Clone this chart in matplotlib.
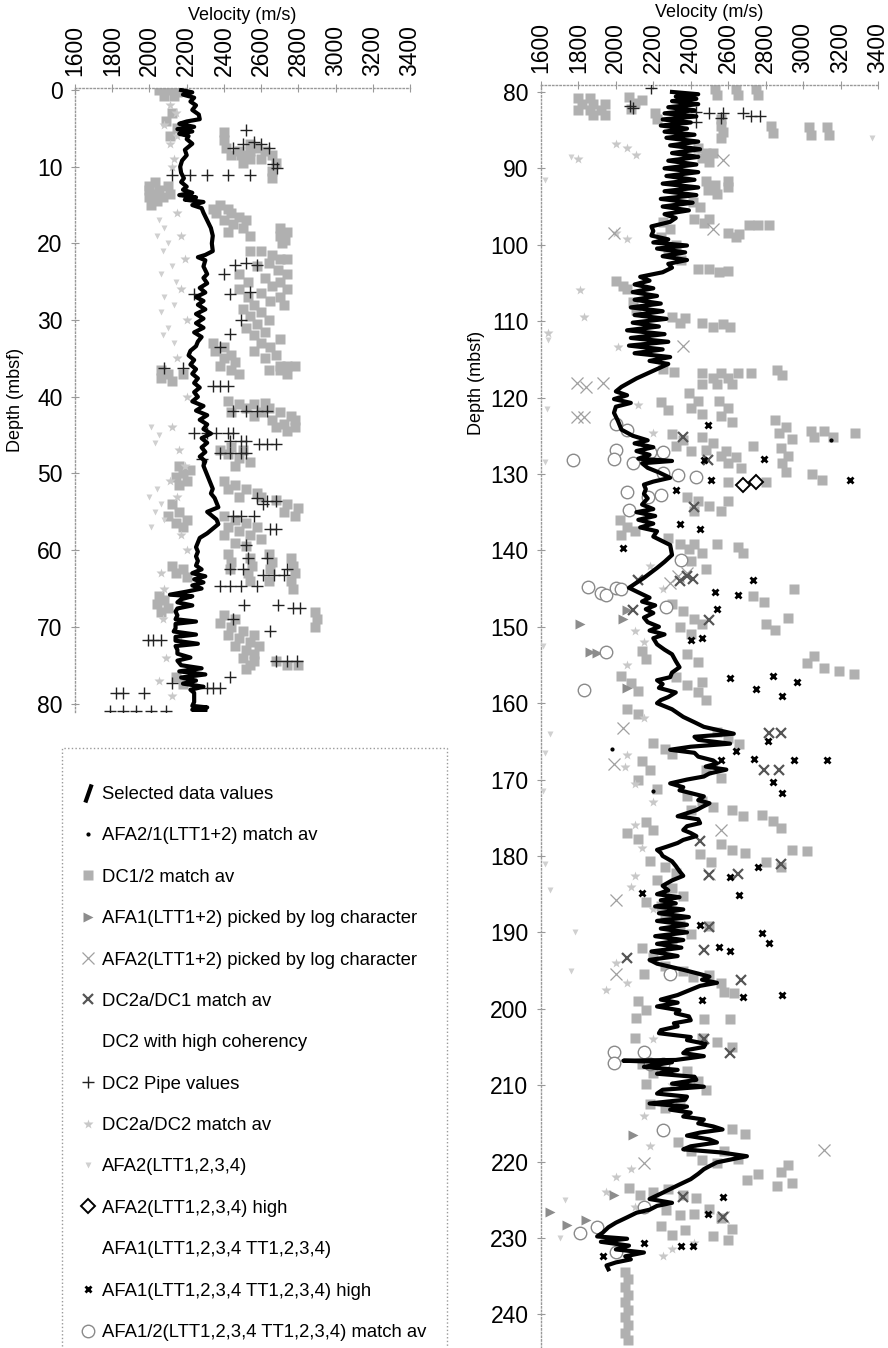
import matplotlib
matplotlib.use("Agg")
import matplotlib.pyplot as plt
from matplotlib.lines import Line2D
from matplotlib.patches import Rectangle

plt.rcParams['font.family'] = ['Liberation Sans', 'DejaVu Sans']

# ---- selected velocity profile (depth m, velocity m/s) ----
selected_upper = [
    (0.0, 2170), (0.3, 2230), (0.6, 2180), (1.0, 2240), (1.5, 2220), (2.0, 2250), (2.6, 2230),
    (3.2, 2265), (3.8, 2270), (4.1, 2200), (4.4, 2160), (4.8, 2240), (5.1, 2150), (5.4, 2230),
    (5.7, 2160), (6.0, 2210), (6.4, 2200), (7.0, 2230), (7.8, 2190), (8.5, 2200), (9.2, 2175),
    (10.0, 2165), (10.8, 2170), (11.5, 2185), (12.0, 2170), (12.6, 2200), (13.0, 2180), (13.4, 2230),
    (13.7, 2160), (14.0, 2250), (14.3, 2190), (14.6, 2290), (15.0, 2230), (15.4, 2280), (16.0, 2290),
    (17.0, 2310), (18.0, 2330), (19.0, 2340), (20.0, 2335), (21.0, 2340), (21.5, 2300), (21.8, 2260),
    (22.2, 2300), (23.0, 2290), (24.0, 2310), (24.5, 2290), (25.2, 2310), (25.8, 2270), (26.4, 2300),
    (27.0, 2250), (27.5, 2290), (28.0, 2260), (28.6, 2300), (29.2, 2250), (29.8, 2290), (30.4, 2250),
    (31.0, 2290), (31.6, 2240), (32.2, 2280), (32.8, 2260), (33.4, 2250), (34.0, 2220), (34.6, 2210),
    (35.2, 2240), (35.8, 2220), (36.4, 2250), (37.0, 2230), (37.6, 2260), (38.2, 2240), (38.8, 2270),
    (39.4, 2240), (40.0, 2260), (40.6, 2230), (41.2, 2290), (41.8, 2250), (42.4, 2310), (43.0, 2270),
    (43.6, 2310), (44.2, 2290), (44.8, 2330), (45.4, 2280), (46.0, 2310), (46.6, 2280), (47.2, 2300),
    (47.8, 2270), (48.4, 2300), (49.0, 2290), (49.6, 2300), (50.2, 2310), (50.8, 2320), (51.4, 2330),
    (52.0, 2340), (52.6, 2330), (53.2, 2350), (53.8, 2360), (54.4, 2370), (55.0, 2310), (55.4, 2330),
    (56.0, 2360), (56.6, 2370), (57.2, 2340), (57.8, 2310), (58.4, 2270), (59.0, 2260), (59.6, 2250),
    (60.2, 2260), (60.8, 2250), (61.4, 2260), (62.0, 2250), (62.5, 2280), (63.0, 2230), (63.4, 2300),
    (63.8, 2240), (64.2, 2290), (64.6, 2230), (65.0, 2280), (65.4, 2200), (65.8, 2110), (66.0, 2230),
    (66.4, 2170), (66.8, 2150), (67.2, 2230), (67.6, 2150), (68.0, 2140), (68.5, 2150), (69.0, 2140),
    (69.3, 2250), (69.6, 2140), (70.2, 2140), (70.6, 2130), (71.0, 2250), (71.3, 2140), (71.8, 2140),
    (72.2, 2260), (72.5, 2140), (73.0, 2150), (73.5, 2150), (74.0, 2220), (74.4, 2150), (75.0, 2170),
    (75.4, 2280), (75.8, 2160), (76.2, 2300), (76.6, 2170), (77.0, 2250), (77.4, 2180), (77.8, 2290),
    (78.2, 2220), (78.6, 2240), (79.2, 2240), (79.8, 2240), (80.3, 2230), (80.5, 2310), (80.8, 2230),
    (81.0, 2300),
]

selected_lower = [
    (80.0, 2300), (80.3, 2440), (80.6, 2320), (80.9, 2430), (81.2, 2300), (81.6, 2440), (82.0, 2280),
    (82.4, 2420), (82.8, 2260), (83.2, 2430), (83.6, 2250), (84.0, 2400), (84.4, 2240), (84.8, 2380),
    (85.2, 2260), (85.6, 2420), (86.0, 2270), (86.5, 2440), (87.0, 2290), (87.5, 2450), (88.0, 2300),
    (88.5, 2440), (89.0, 2280), (89.5, 2430), (90.0, 2260), (90.5, 2440), (91.0, 2270), (91.5, 2420),
    (92.0, 2250), (92.5, 2440), (93.0, 2260), (93.5, 2430), (94.0, 2240), (94.5, 2410), (95.0, 2250),
    (95.5, 2390), (96.0, 2260), (96.5, 2320), (97.0, 2290), (97.6, 2190), (98.2, 2200), (98.8, 2190),
    (99.3, 2280), (99.7, 2200), (100.1, 2380), (100.5, 2220), (101.0, 2370), (101.5, 2250), (102.0, 2380),
    (102.5, 2280), (103.0, 2300), (103.6, 2250), (104.2, 2130), (104.7, 2180), (105.2, 2100), (105.7, 2200),
    (106.2, 2090), (106.7, 2220), (107.2, 2100), (107.7, 2240), (108.2, 2080), (108.7, 2250), (109.2, 2100),
    (109.7, 2270), (110.2, 2090), (110.7, 2230), (111.2, 2060), (111.7, 2260), (112.2, 2080), (112.7, 2280),
    (113.2, 2070), (113.7, 2250), (114.2, 2100), (114.7, 2290), (115.2, 2180), (115.6, 2280), (116.5, 2200),
    (117.5, 2110), (118.6, 2030), (119.2, 2000), (119.7, 2060), (120.2, 1990), (120.7, 2080), (121.2, 2000),
    (122.0, 1990), (123.0, 2010), (124.2, 2030), (125.0, 2090), (125.6, 2170), (126.0, 2100), (126.5, 2200),
    (127.0, 2110), (127.5, 2180), (128.0, 2120), (128.3, 2300), (128.6, 2140), (129.2, 2170), (129.8, 2230),
    (130.5, 2290), (131.0, 2200), (131.4, 2150), (132.0, 2160), (132.6, 2150), (133.2, 2170), (134.0, 2140),
    (134.6, 2200), (135.0, 2110), (135.5, 2210), (136.0, 2120), (136.5, 2200), (137.0, 2130), (137.5, 2220),
    (138.2, 2200), (139.3, 2290), (140.6, 2300), (141.5, 2260), (142.3, 2220), (143.6, 2150), (144.9, 2070),
    (145.5, 2120), (146.2, 2180), (146.7, 2140), (147.2, 2210), (147.7, 2160), (148.2, 2200), (148.8, 2150),
    (149.4, 2170), (150.0, 2230), (150.5, 2180), (151.0, 2260), (151.5, 2200), (152.3, 2220), (153.0, 2260),
    (153.6, 2300), (154.5, 2320), (155.3, 2340), (156.0, 2300), (156.6, 2290), (157.0, 2220), (157.5, 2250),
    (158.0, 2230), (158.6, 2320), (159.2, 2280), (159.6, 2240), (160.0, 2220), (160.8, 2300), (161.8, 2360),
    (162.5, 2420), (163.1, 2470), (163.6, 2560), (164.0, 2630), (164.4, 2420), (164.8, 2440), (165.3, 2610),
    (165.7, 2400), (166.1, 2290), (166.5, 2420), (167.0, 2440), (167.5, 2520), (167.9, 2540), (168.3, 2480),
    (168.7, 2590), (169.2, 2500), (169.6, 2470), (170.0, 2380), (170.5, 2290), (171.0, 2360), (171.4, 2340),
    (172.2, 2470), (172.7, 2440), (173.1, 2500), (173.6, 2460), (174.0, 2430), (174.4, 2380), (174.8, 2330),
    (175.2, 2440), (175.7, 2450), (176.1, 2380), (176.6, 2360), (177.0, 2400), (177.4, 2430), (177.9, 2360),
    (178.3, 2330), (178.8, 2270), (179.2, 2220), (179.6, 2240), (180.0, 2250), (180.7, 2300), (181.3, 2320),
    (182.0, 2340), (182.6, 2360), (183.2, 2300), (183.9, 2250), (184.5, 2280), (185.0, 2220), (185.4, 2340),
    (185.8, 2240), (186.2, 2320), (186.6, 2210), (187.0, 2360), (187.5, 2230), (188.0, 2390), (188.5, 2220),
    (189.0, 2380), (189.5, 2240), (190.0, 2380), (190.5, 2210), (191.0, 2360), (191.5, 2220), (192.0, 2350),
    (192.5, 2190), (193.1, 2330), (193.6, 2180), (194.1, 2220), (194.9, 2360), (195.4, 2440), (195.8, 2500),
    (196.2, 2460), (196.6, 2540), (197.0, 2450), (197.5, 2400), (198.2, 2330), (198.8, 2240), (199.2, 2330),
    (199.7, 2220), (200.2, 2340), (200.6, 2320), (201.0, 2390), (201.5, 2400), (201.9, 2310), (202.3, 2330),
    (202.8, 2240), (203.2, 2230), (203.7, 2400), (204.1, 2380), (204.6, 2480), (205.0, 2470), (205.4, 2380),
    (205.8, 2360), (206.2, 2470), (206.7, 2320), (206.8, 2040), (207.0, 2300), (207.6, 2150), (208.0, 2330),
    (208.5, 2220), (208.9, 2420), (209.3, 2430), (209.8, 2300), (210.2, 2470), (210.6, 2250), (211.1, 2220),
    (211.5, 2380), (211.9, 2370), (212.4, 2180), (212.8, 2380), (213.2, 2290), (213.6, 2400), (214.1, 2360),
    (214.5, 2470), (215.0, 2440), (215.4, 2520), (215.8, 2570), (216.2, 2450), (216.6, 2380), (217.1, 2500),
    (217.5, 2540), (218.0, 2400), (218.4, 2360), (218.8, 2560), (219.3, 2700), (219.7, 2620), (220.1, 2540),
    (220.6, 2500), (221.0, 2470), (221.6, 2440), (222.3, 2400), (223.0, 2340), (223.6, 2290), (224.2, 2240),
    (224.9, 2180), (225.4, 2300), (225.8, 2220), (226.3, 2180), (226.7, 2110), (227.3, 2060), (228.0, 2000),
    (228.6, 1960), (229.3, 1930), (229.8, 1900), (230.1, 2060), (230.5, 1920), (231.0, 2070), (231.5, 2000),
    (231.9, 2150), (232.4, 2050), (232.8, 2080), (233.2, 2000), (233.6, 1950), (234.1, 1960),
]

# ---- DC1/2 match av ----
dc12_upper = [
    (0.0, 2050), (0.0, 2100), (0.8, 2080), (0.8, 2130), (0.2, 2150),
    (3.0, 2120), (4.0, 2090), (5.0, 2150), (6.0, 2110),
    (5.5, 2400), (6.5, 2400), (7.5, 2410), (8.5, 2440), (8.5, 2490), (8.0, 2540), (7.5, 2580), (8.0, 2620),
    (8.5, 2660), (9.5, 2680), (10.5, 2660), (11.5, 2660), (9.0, 2540), (9.5, 2500), (9.0, 2600), (7.0, 2540),
    (8.0, 2480),
    (12.0, 2030), (12.5, 2000), (13.0, 2000), (13.0, 2050), (13.5, 2030), (14.0, 2000), (14.0, 2070),
    (14.5, 2040), (15.0, 2010), (12.5, 2100), (13.5, 2110),
    (15.0, 2380), (15.5, 2420), (16.0, 2360), (16.0, 2440), (16.5, 2480), (17.0, 2400), (17.0, 2520),
    (17.5, 2450), (18.0, 2500), (18.5, 2420), (19.0, 2540), (15.5, 2340),
    (18.0, 2700), (18.5, 2740), (19.0, 2700), (19.5, 2730), (20.0, 2710),
    (21.0, 2540), (21.0, 2600), (21.5, 2660), (22.0, 2700), (22.5, 2640), (22.0, 2740), (23.0, 2580),
    (23.5, 2690), (24.0, 2740), (24.5, 2620), (25.0, 2700), (25.5, 2660), (26.0, 2740), (26.5, 2600),
    (27.0, 2700), (27.5, 2650), (28.0, 2720),
    (24.0, 2480), (25.0, 2530), (26.0, 2480), (27.0, 2530), (28.0, 2560), (28.5, 2500), (29.0, 2600),
    (29.5, 2540), (30.0, 2640), (30.5, 2580), (31.0, 2520), (31.5, 2620), (32.0, 2560), (32.5, 2700),
    (33.0, 2600), (33.5, 2650), (34.0, 2560), (34.5, 2680), (35.0, 2620), (36.0, 2700), (36.0, 2740),
    (33.0, 2340), (33.5, 2400), (34.0, 2350), (34.5, 2440), (35.0, 2400), (35.5, 2460), (36.0, 2380),
    (36.5, 2440), (37.0, 2480),
    (36.5, 2060), (37.0, 2100), (37.5, 2060), (38.0, 2120), (37.0, 2180),
    (36.5, 2640), (36.5, 2700), (37.0, 2740), (36.0, 2780),
    (40.5, 2420), (41.0, 2480), (41.0, 2560), (41.5, 2520), (41.5, 2640), (42.0, 2600), (42.0, 2700),
    (42.5, 2560), (42.5, 2760), (43.0, 2660), (43.0, 2780), (43.5, 2720), (44.0, 2680), (44.0, 2780),
    (44.5, 2740), (40.8, 2620), (42.0, 2440),
    (46.5, 2440), (47.0, 2500), (47.5, 2420), (48.0, 2480), (48.5, 2540), (47.0, 2380), (49.0, 2460),
    (49.0, 2160), (49.5, 2220), (50.0, 2180), (50.5, 2140), (51.0, 2200), (51.5, 2160),
    (51.0, 2400), (51.5, 2460), (52.0, 2520), (52.5, 2580), (53.0, 2600), (52.0, 2420), (53.0, 2480),
    (53.5, 2680), (54.0, 2740), (54.5, 2800), (55.0, 2720), (55.5, 2780),
    (54.0, 2120), (55.0, 2160), (55.5, 2100), (56.0, 2200), (56.5, 2140), (57.0, 2180),
    (55.5, 2400), (56.0, 2460), (56.5, 2520), (57.0, 2420), (57.0, 2580), (57.5, 2480), (58.0, 2540),
    (58.0, 2400), (58.5, 2600), (59.0, 2460), (59.5, 2520),
    (62.0, 2120), (62.5, 2180), (63.0, 2140), (63.5, 2200),
    (60.5, 2420), (61.5, 2440), (62.5, 2430), (61.0, 2540), (62.0, 2550), (63.0, 2530), (64.0, 2540),
    (60.5, 2640), (61.5, 2660), (62.5, 2650), (64.0, 2640), (61.0, 2760), (62.0, 2770), (63.0, 2780),
    (64.0, 2760), (65.0, 2770),
    (66.0, 2050), (66.5, 2080), (67.0, 2040), (67.5, 2100), (68.0, 2060),
    (68.5, 2400), (69.0, 2460), (69.5, 2380), (70.0, 2440), (70.5, 2500), (71.0, 2420), (71.0, 2560),
    (71.5, 2480), (72.0, 2540), (72.5, 2460), (72.5, 2590), (73.0, 2520), (73.5, 2560), (74.0, 2500),
    (74.5, 2560), (75.0, 2540), (75.5, 2520),
    (68.0, 2890), (69.0, 2900), (70.0, 2890),
    (74.5, 2680), (75.0, 2740), (75.0, 2800),
    (76.5, 2140), (77.5, 2180),
]

dc12_lower = [
    (80.8, 1800), (80.8, 1860), (81.6, 1820), (81.6, 1880), (81.6, 1940), (82.4, 1800), (82.4, 1860),
    (82.4, 1920), (83.0, 1880), (83.0, 1940),
    (80.6, 2070), (81.4, 2100), (82.2, 2080), (81.0, 2140), (82.8, 2210), (83.5, 2220),
    (79.6, 2530), (80.4, 2540), (79.6, 2640), (80.4, 2650), (79.6, 2750), (80.4, 2760),
    (83.6, 2560), (84.4, 2560), (85.2, 2570), (86.0, 2560), (84.4, 2830), (85.4, 2840),
    (84.6, 3030), (85.6, 3040), (84.6, 3130), (85.6, 3140),
    (87.4, 2440), (88.0, 2480), (88.6, 2460), (89.2, 2500), (88.0, 2520),
    (91.6, 2480), (92.2, 2530), (92.8, 2490), (93.4, 2540), (91.6, 2600), (92.4, 2600),
    (94.4, 2410), (95.0, 2450), (96.6, 2420), (97.2, 2470), (96.6, 2500),
    (98.4, 2600), (99.0, 2640), (98.6, 2660), (97.4, 2710), (97.4, 2760), (97.4, 2820),
    (97.0, 2250), (98.0, 2290), (99.0, 2240), (100.0, 2320), (101.0, 2280), (102.0, 2350),
    (103.2, 2440), (103.2, 2500), (103.6, 2550), (103.4, 2600),
    (104.8, 2000), (105.4, 2040), (105.8, 2060), (107.5, 2090), (108.5, 2110),
    (109.4, 2300), (110.2, 2340), (109.6, 2370),
    (110.2, 2460), (110.8, 2520), (110.4, 2570), (110.8, 2610),
    (116.2, 2250), (116.6, 2310), (116.8, 2460), (117.4, 2520), (116.8, 2560), (117.4, 2600),
    (116.8, 2650), (116.8, 2720), (116.4, 2860), (117.0, 2890),
    (118.2, 2460), (118.2, 2540), (118.2, 2620), (120.6, 2240), (121.6, 2280),
    (119.4, 2390), (120.4, 2440), (121.4, 2400), (122.2, 2460),
    (120.4, 2550), (121.4, 2600), (122.4, 2560), (123.2, 2620),
    (123.0, 2850), (123.8, 2910), (124.6, 2870), (125.4, 2940),
    (126.6, 2880), (127.6, 2920), (128.6, 2890), (129.8, 2910),
    (124.4, 3040), (125.2, 3060), (124.4, 3110), (125.2, 3160), (124.6, 3280),
    (124.8, 2300), (125.6, 2360), (126.4, 2320), (127.0, 2400),
    (125.2, 2460), (126.0, 2520), (126.8, 2480), (127.6, 2560),
    (127.0, 2590), (127.8, 2640), (128.6, 2600), (129.2, 2670), (126.4, 2730),
    (131.0, 2600), (131.0, 2800), (130.0, 3050), (130.8, 3100),
    (133.0, 2380), (133.6, 2440), (134.2, 2500), (134.8, 2560), (133.6, 2600), (134.8, 2420),
    (136.0, 2020), (137.0, 2060), (138.0, 2030), (137.5, 2100),
    (138.4, 2280), (139.2, 2340), (139.8, 2390),
    (139.2, 2420), (140.4, 2460), (141.4, 2400), (142.4, 2480), (139.2, 2540),
    (139.6, 2650), (140.4, 2680), (145.0, 2950), (146.0, 2730), (146.8, 2790),
    (147.0, 2300), (148.0, 2360), (149.0, 2420), (150.0, 2340), (151.0, 2400), (149.6, 2460),
    (149.6, 2800), (150.4, 2850), (148.8, 2920),
    (153.2, 2140), (154.2, 2160), (153.6, 2380), (154.6, 2440),
    (153.8, 3060), (154.8, 3020), (155.4, 3110), (155.8, 3190), (156.2, 3270),
    (156.4, 2030), (157.4, 2080), (158.4, 2120),
    (156.6, 2320), (157.6, 2380), (158.6, 2440), (159.6, 2480), (157.2, 2460),
    (160.8, 2060), (161.4, 2120),
    (163.8, 2540), (164.6, 2600), (165.4, 2660),
    (165.2, 2200), (166.0, 2260), (166.6, 2300),
    (167.6, 2140), (168.8, 2180), (170.0, 2120), (171.2, 2220),
    (168.8, 2480), (169.8, 2560),
    (172.2, 2380), (172.8, 2460), (173.6, 2520), (174.0, 2400),
    (174.0, 2620), (174.8, 2680), (174.6, 2780), (175.4, 2840), (176.4, 2880),
    (177.0, 2060), (177.8, 2120), (175.6, 2160), (176.6, 2200),
    (178.4, 2560), (179.2, 2620), (179.6, 2690), (179.2, 2940), (179.4, 3020),
    (179.8, 2450), (180.8, 2510), (180.8, 2800), (181.4, 2880),
    (180.6, 2180), (181.4, 2260), (182.2, 2320),
    (183.2, 2220), (184.2, 2300), (185.2, 2360),
    (186.0, 2160), (186.6, 2240),
    (187.8, 2260), (189.0, 2340), (190.2, 2400), (191.4, 2300), (189.2, 2500),
    (192.0, 2140), (193.2, 2200), (194.4, 2260), (195.4, 2150),
    (195.0, 2360), (195.8, 2410), (195.6, 2500), (196.6, 2560), (197.8, 2580), (198.0, 2630),
    (199.0, 2120), (200.2, 2160), (201.2, 2110), (201.4, 2470), (201.4, 2610), (203.8, 2100),
    (203.8, 2460), (204.4, 2540), (205.0, 2620),
    (207.2, 2140), (208.4, 2200), (209.8, 2160),
    (208.2, 2380), (209.4, 2440), (210.6, 2480),
    (212.4, 2180), (213.0, 2260), (212.6, 2340),
    (215.8, 2620), (216.4, 2690),
    (217.4, 2330), (218.6, 2400), (219.8, 2460), (220.2, 2540),
    (218.6, 2580), (219.6, 2650),
    (220.4, 2920), (221.4, 2880), (221.6, 2760), (222.4, 2700), (222.8, 2940), (223.2, 2860),
    (223.4, 2070), (224.4, 2130), (224.0, 2200),
    (223.6, 2280), (224.4, 2360), (224.8, 2430),
    (226.4, 2270), (227.0, 2340), (226.8, 2420),
    (228.4, 2240), (229.6, 2300), (229.0, 2370),
    (226.2, 2500), (227.4, 2560), (228.8, 2620), (230.2, 2600), (229.8, 2520),
    (234.4, 2050), (235.4, 2065), (236.4, 2050), (237.4, 2065), (238.4, 2050), (239.4, 2065),
    (240.4, 2050), (241.4, 2065), (242.4, 2050), (243.4, 2065),
]

# ---- DC2 Pipe values ----
pipe_upper = [
    (5.2, 2520), (7.5, 2450), (7.0, 2500), (6.8, 2560), (7.0, 2600), (7.6, 2640), (9.6, 2665), (10.2, 2685),
    (11.1, 2120), (11.1, 2220), (11.1, 2310), (11.1, 2420), (11.1, 2540),
    (22.8, 2460), (22.6, 2520), (22.8, 2580), (24.0, 2400),
    (26.6, 2240), (26.6, 2430), (26.4, 2540), (30.0, 2490), (31.8, 2430), (33.5, 2380),
    (36.2, 2080), (36.2, 2180), (38.6, 2340), (38.6, 2380), (38.6, 2420),
    (41.8, 2450), (41.8, 2520), (41.8, 2580), (41.8, 2630),
    (44.7, 2240), (44.7, 2310), (44.7, 2360), (44.7, 2420), (44.7, 2450),
    (45.7, 2430), (45.7, 2490), (45.7, 2520), (46.2, 2590), (46.2, 2630), (46.2, 2680),
    (47.3, 2380), (47.3, 2430), (47.3, 2490), (47.3, 2520), (48.1, 2280),
    (53.2, 2580), (53.6, 2630), (53.6, 2680), (54.0, 2610),
    (55.5, 2450), (55.5, 2490), (55.5, 2560), (57.3, 2650), (57.3, 2680),
    (59.3, 2520), (61.0, 2530), (61.0, 2630),
    (62.5, 2430), (62.5, 2500), (62.5, 2740), (63.2, 2610), (63.2, 2670), (63.2, 2720),
    (64.7, 2380), (64.7, 2430), (64.7, 2490), (64.7, 2580),
    (67.1, 2510), (67.1, 2690), (67.6, 2770), (67.6, 2810), (69.0, 2450), (70.6, 2650),
    (71.7, 1990), (71.7, 2020), (71.7, 2060),
    (74.5, 2680), (74.5, 2740), (74.5, 2790), (76.5, 2430), (77.3, 2120),
    (78.0, 2310), (78.0, 2340), (78.0, 2380),
    (78.6, 1820), (78.6, 1860), (78.6, 1970),
    (81.0, 1790), (81.0, 1860), (81.0, 1930), (81.0, 2010), (81.0, 2090),
]

pipe_lower = [
    (79.5, 2190), (82.1, 2090), (81.9, 2075), (82.6, 2430), (82.8, 2500), (82.8, 2570), (82.8, 2680),
    (83.2, 2720), (83.2, 2770), (83.4, 2560), (83.9, 2430),
]

# ---- DC2a/DC1 match av ----
dc2a_dc1 = [
    (125.1, 2360), (128.2, 2490), (134.3, 2420), (143.4, 2380), (144.0, 2340), (143.8, 2410),
    (143.9, 2120), (147.8, 2090), (149.1, 2500), (163.9, 2820), (163.9, 2880), (168.7, 2790),
    (168.7, 2870), (178.1, 2450), (182.5, 2500), (182.3, 2650), (181.0, 2880), (193.4, 2060),
    (189.3, 2500), (196.2, 2670), (192.3, 2470), (205.8, 2610), (203.9, 2470), (224.6, 2360),
    (227.2, 2570),
]

# ---- AFA1(LTT1,2,3,4 TT1,2,3,4) high ----
afa1_high = [
    (123.6, 2490), (128.0, 2790), (128.2, 2470), (130.8, 3250), (130.8, 2510), (132.1, 2320),
    (136.5, 2340), (137.2, 2450), (139.7, 2040), (145.4, 2530), (145.8, 2650), (143.9, 2730),
    (147.7, 2540), (151.5, 2460), (151.7, 2400), (156.5, 2840), (156.7, 2610), (157.2, 2970),
    (158.1, 2750), (159.1, 2890), (165.0, 2810), (166.3, 2640), (167.4, 2560), (167.3, 2740),
    (167.5, 2950), (167.5, 3130), (170.3, 2840), (171.8, 2890), (181.4, 2760), (182.7, 2610),
    (184.9, 2140), (185.1, 2660), (189.0, 2450), (190.1, 2780), (191.4, 2820), (191.9, 2550),
    (192.5, 2610), (198.8, 2460), (198.4, 2680), (198.2, 2890), (224.6, 2570), (226.8, 2490),
    (231.1, 2350), (231.1, 2410), (230.7, 2150), (232.4, 1930),
]

# ---- AFA2(LTT1+2) picked by log character ----
afa2_pick = [
    (88.9, 2570), (98.0, 2520), (98.5, 1990), (113.3, 2360), (118.1, 1930), (118.6, 1840),
    (118.1, 1790), (122.5, 1790), (122.5, 1830), (143.4, 2330), (144.3, 2290), (143.0, 2380),
    (163.3, 2040), (167.9, 1990), (176.6, 2560), (182.3, 2500), (185.8, 2000), (195.4, 2000),
    (218.5, 3110), (220.2, 2150), (227.2, 2570),
]

# ---- AFA1(LTT1+2) picked by log character ----
afa1_pick = [
    (149.6, 1810), (147.8, 2060), (149.0, 2040), (153.3, 1860), (153.5, 1900), (226.6, 1650),
    (228.3, 1740), (227.6, 1840), (224.4, 1990), (216.5, 2090), (158.0, 2060),
]

# ---- AFA1/2(LTT1,2,3,4 TT1,2,3,4) match av ----
afa12_match = [
    (123.4, 2000), (124.2, 2060), (126.9, 2000), (128.0, 1990), (128.2, 1770), (128.6, 2090),
    (127.1, 2180), (127.1, 2250), (129.9, 2250), (130.1, 2330), (130.4, 2430), (132.3, 2060),
    (133.0, 2170), (132.8, 2240), (134.7, 2070), (141.3, 2350), (144.8, 1850), (145.6, 1920),
    (145.8, 1950), (144.9, 2000), (145.1, 2030), (147.4, 2270), (153.3, 1950), (158.3, 1830),
    (195.4, 2290), (205.6, 1990), (207.1, 1990), (205.6, 2150), (207.2, 2180), (207.2, 2250),
    (215.9, 2250), (225.9, 2150), (228.5, 1900), (229.4, 1810), (231.8, 2000),
]

# ---- AFA2(LTT1,2,3,4) high ----
afa2_high = [(131.4, 2680), (131.0, 2750)]

# ---- DC2a/DC2 match av ----
dc2a_dc2_upper = [
    (2.0, 2110), (3.0, 2140), (4.5, 2080), (6.0, 2150), (7.0, 2110), (9.0, 2130), (10.0, 2120),
    (16.0, 2150), (19.0, 2170), (22.0, 2190), (26.0, 2170), (30.0, 2200), (35.0, 2150), (40.0, 2200),
    (44.0, 2120), (47.0, 2160), (49.0, 2190), (51.0, 2110), (53.0, 2150), (58.0, 2170), (60.0, 2200),
    (63.0, 2060), (65.0, 2080), (69.0, 2070), (72.0, 2170), (74.0, 2090), (77.0, 2050), (79.0, 2120),
]
dc2a_dc2_lower = [
    (86.8, 2000), (87.4, 2060), (88.2, 2110), (88.8, 1800), (98.4, 2000), (99.2, 2060), (105.9, 1810),
    (109.4, 1830), (111.6, 1640), (113.4, 2010), (121.0, 2120), (124.6, 2200), (126.0, 2130),
    (135.0, 2160), (142.0, 2180), (145.0, 2250), (150.5, 2100), (152.0, 2150), (155.0, 2060),
    (162.0, 2150), (166.8, 2060), (168.4, 2050), (170.6, 2100), (173.0, 2200), (176.0, 2100),
    (179.0, 2140), (182.6, 2100), (184.0, 2080), (187.0, 2200), (194.0, 2000), (196.6, 2060),
    (197.6, 1950), (204.0, 2200), (210.0, 2300), (214.0, 2150), (218.0, 2180), (221.0, 2080),
    (222.0, 2000), (224.0, 1950), (226.0, 2100), (231.5, 2300), (230.6, 2420), (232.4, 2250),
]

# ---- AFA2(LTT1,2,3,4) ----
afa2_ltt_upper = [
    (17.0, 2050), (18.0, 2080), (19.0, 2040), (20.0, 2100), (21.0, 2070), (23.0, 2120), (24.0, 2060),
    (25.0, 2140), (27.0, 2080), (28.0, 2130), (29.0, 2060), (31.0, 2100), (32.0, 2070), (33.0, 2130),
    (44.0, 2010), (45.0, 2050), (46.0, 2030), (52.0, 2040), (53.0, 2000), (54.0, 2060), (55.0, 2030),
    (56.0, 2080), (57.0, 2010),
]
afa2_ltt_lower = [
    (88.5, 1760), (91.5, 1620), (112.5, 1640), (121.5, 1630), (128.5, 1620), (152.5, 1610),
    (164.0, 1650), (166.5, 1620), (171.5, 1610), (181.0, 1620), (184.5, 1650), (190.0, 1780),
    (195.0, 1760), (225.0, 1730), (230.0, 1700), (86.0, 3370),
]

# ---- AFA2/1(LTT1+2) match av ----
afa21_match = [(166.0, 1980), (171.5, 2200), (125.5, 3150), (230.4, 1960)]

# series plotted in white
dc2_coherent = [(150.0, 2300), (190.0, 2400)]
afa1_ltt = [(160.0, 2250), (200.0, 2350)]

styles = {
    'sel':   dict(color='black', lw=3.0, zorder=6),
    'afa21': dict(ls='none', marker='.', color='black', ms=4, zorder=7),
    'dc12':  dict(ls='none', marker='s', color='#b0b0b0', mec='none', ms=7.5, zorder=2),
    'afa1p': dict(ls='none', marker='>', color='#8c8c8c', mec='none', ms=7, zorder=3),
    'afa2p': dict(ls='none', marker='x', color='#a0a0a0', mew=0.9, ms=9, zorder=3),
    'dc2a1': dict(ls='none', marker='x', color='#555555', mew=1.6, ms=7, zorder=5),
    'dc2hc': dict(ls='none', marker='o', color='white', ms=3, zorder=1),
    'pipe':  dict(ls='none', marker='+', color='#222222', mew=1.0, ms=8, zorder=5),
    'dc2a2': dict(ls='none', marker='*', color='#c8c8c8', mec='none', ms=7, zorder=3),
    'afa2l': dict(ls='none', marker='v', color='#d0d0d0', mec='none', ms=5, zorder=3),
    'afa2h': dict(ls='none', marker='D', mfc='white', mec='black', mew=1.4, ms=7, zorder=7),
    'afa1l': dict(ls='none', marker='o', color='white', ms=3, zorder=1),
    'afa1h': dict(ls='none', marker='x', color='black', mew=2.0, ms=4.5, zorder=7),
    'afa12': dict(ls='none', marker='o', mfc='white', mec='#8a8a8a', mew=1.0, ms=9, zorder=4),
}


def draw(ax, pts, key):
    if pts:
        d, v = zip(*pts)
        ax.plot(v, d, **styles[key])


fig = plt.figure(figsize=(8.88, 13.48), dpi=100)
ax1 = fig.add_axes([0.0845, 0.4718, 0.3773, 0.4629])
ax2 = fig.add_axes([0.6092, 0.0, 0.3795, 0.9369])

draw(ax1, dc12_upper, 'dc12')
draw(ax1, afa2_ltt_upper, 'afa2l')
draw(ax1, dc2a_dc2_upper, 'dc2a2')
draw(ax1, selected_upper, 'sel')
draw(ax1, pipe_upper, 'pipe')

draw(ax2, dc2_coherent, 'dc2hc')
draw(ax2, afa1_ltt, 'afa1l')
draw(ax2, dc12_lower, 'dc12')
draw(ax2, afa2_ltt_lower, 'afa2l')
draw(ax2, dc2a_dc2_lower, 'dc2a2')
draw(ax2, afa2_pick, 'afa2p')
draw(ax2, afa1_pick, 'afa1p')
draw(ax2, afa12_match, 'afa12')
draw(ax2, selected_lower, 'sel')
draw(ax2, dc2a_dc1, 'dc2a1')
draw(ax2, pipe_lower, 'pipe')
draw(ax2, afa1_high, 'afa1h')
draw(ax2, afa2_high, 'afa2h')
draw(ax2, afa21_match, 'afa21')

ax1.set_ylim(81.1, -0.26)
ax2.set_ylim(244.4, 79.1)
ax1.set_yticks(range(0, 81, 10))
ax2.set_yticks(range(80, 241, 10))

for ax in (ax1, ax2):
    ax.set_xlim(1600, 3400)
    ax.set_xticks(range(1600, 3401, 200))
    ax.xaxis.tick_top()
    ax.xaxis.set_label_position('top')
    ax.set_xlabel('Velocity (m/s)', fontsize=13, labelpad=3)
    ax.set_ylabel('Depth (mbsf)', fontsize=13)
    ax.tick_params(axis='x', labelrotation=90, labelsize=16.5, direction='inout', length=6,
                   color='#999999', pad=6)
    ax.tick_params(axis='y', labelsize=16.5, direction='inout', length=6, color='#999999', pad=6)
    for side in ('right', 'bottom'):
        ax.spines[side].set_visible(False)
    for side in ('left', 'top'):
        ax.spines[side].set_linestyle(':')
        ax.spines[side].set_color('#999999')
        ax.spines[side].set_linewidth(1.0)

ax1.yaxis.set_label_coords(-0.152, 0.5)
ax2.yaxis.set_label_coords(-0.166, 0.764)

slash = [(-0.35, -1.0), (0.35, 1.0)]
handles = [
    Line2D([], [], ls='none', marker=slash, color='black', mew=3, ms=13),
    Line2D([], [], **styles['afa21']),
    Line2D([], [], **styles['dc12']),
    Line2D([], [], **styles['afa1p']),
    Line2D([], [], **styles['afa2p']),
    Line2D([], [], **styles['dc2a1']),
    Line2D([], [], **styles['dc2hc']),
    Line2D([], [], **styles['pipe']),
    Line2D([], [], **styles['dc2a2']),
    Line2D([], [], **styles['afa2l']),
    Line2D([], [], **styles['afa2h']),
    Line2D([], [], **styles['afa1l']),
    Line2D([], [], **styles['afa1h']),
    Line2D([], [], **styles['afa12']),
]
labels = [
    'Selected data values',
    'AFA2/1(LTT1+2) match av',
    'DC1/2 match av',
    'AFA1(LTT1+2) picked by log character',
    'AFA2(LTT1+2) picked by log character',
    'DC2a/DC1 match av',
    'DC2 with high coherency',
    'DC2 Pipe values',
    'DC2a/DC2 match av',
    'AFA2(LTT1,2,3,4)',
    'AFA2(LTT1,2,3,4) high',
    'AFA1(LTT1,2,3,4 TT1,2,3,4)',
    'AFA1(LTT1,2,3,4 TT1,2,3,4) high',
    'AFA1/2(LTT1,2,3,4 TT1,2,3,4) match av',
]
leg = fig.legend(handles, labels, loc='upper left', bbox_to_anchor=(80 / 888, 1 - 786 / 1348),
                 fontsize=13.3, frameon=False, handlelength=0.9, handletextpad=0.3,
                 labelspacing=1.32, borderpad=0, borderaxespad=0)

# dotted box round the legend, running off the bottom edge
fig.add_artist(Rectangle((62 / 888, -0.02), (447 - 62) / 888, 0.02 + 1 - 748 / 1348,
                         transform=fig.transFigure, fill=False, ls=':', lw=1.0,
                         edgecolor='#999999'))

fig.savefig('out.png', dpi=100)
